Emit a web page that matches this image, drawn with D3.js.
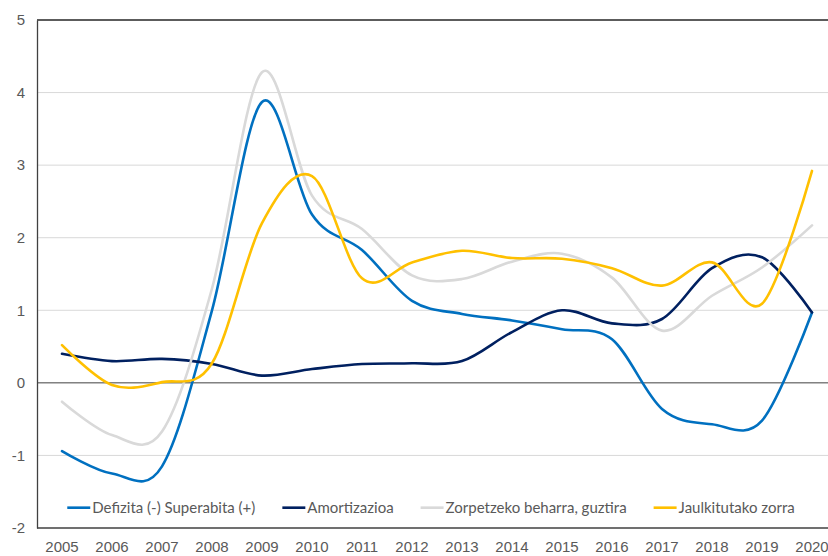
<!DOCTYPE html>
<html>
<head>
<meta charset="utf-8">
<script src="https://cdn.jsdelivr.net/npm/d3@7"></script>
<style>
  html, body { margin: 0; padding: 0; background: #fff; }
  svg { display: block; font-family: Lato, "Open Sans", sans-serif; }
</style>
</head>
<body>
<svg id="chart" width="828" height="556"></svg>
<script>
// Years on the horizontal axis
const years = ["2005","2006","2007","2008","2009","2010","2011","2012","2013","2014","2015","2016","2017","2018","2019","2020"];

// Series values (%)
const defizita     = [-0.94, -1.25, -1.15, 1.00, 3.87, 2.32, 1.83, 1.13, 0.95, 0.86, 0.74, 0.60, -0.36, -0.57, -0.52, 0.97];
const amortizazioa = [0.40, 0.30, 0.33, 0.26, 0.10, 0.19, 0.26, 0.27, 0.30, 0.70, 1.00, 0.82, 0.88, 1.58, 1.73, 0.97];
const zorpetzeko   = [-0.26, -0.72, -0.67, 1.30, 4.28, 2.58, 2.12, 1.48, 1.43, 1.67, 1.78, 1.45, 0.72, 1.20, 1.59, 2.17];
const jaulkitutako = [0.52, -0.03, 0.01, 0.27, 2.20, 2.85, 1.44, 1.66, 1.82, 1.72, 1.71, 1.58, 1.34, 1.66, 1.09, 2.92];

const seriesNames  = ["Defizita (-) Superabita (+)", "Amortizazioa", "Zorpetzeko beharra, guztira", "Jaulkitutako zorra"];
const seriesColors = ["#0070C0", "#002060", "#D9D9D9", "#FFC000"];
const yTicks = [-2, -1, 0, 1, 2, 3, 4, 5];

const series = [
  { name: seriesNames[0], color: seriesColors[0], values: defizita },
  { name: seriesNames[1], color: seriesColors[1], values: amortizazioa },
  { name: seriesNames[2], color: seriesColors[2], values: zorpetzeko },
  { name: seriesNames[3], color: seriesColors[3], values: jaulkitutako }
];

const svg = d3.select("#chart");
const margin = { top: 20, left: 37, bottom: 28 };
const plotRight = 837;           // plot area runs past the right edge of the page
const H = 556;

const x = d3.scaleBand().domain(years).range([margin.left, plotRight]).padding(0);
const y = d3.scaleLinear().domain([-2, 5]).range([H - margin.bottom, margin.top]);
const cx = d => x(d) + x.bandwidth() / 2;

// Horizontal gridlines
svg.append("g")
  .selectAll("line")
  .data(yTicks.filter(t => t !== 0 && t !== -2 && t !== 5))
  .join("line")
  .attr("x1", margin.left).attr("x2", plotRight)
  .attr("y1", d => y(d)).attr("y2", d => y(d))
  .attr("stroke", "#D9D9D9").attr("stroke-width", 1);

// Top frame line, zero line and bottom line
svg.append("line")
  .attr("x1", margin.left).attr("x2", plotRight)
  .attr("y1", y(5)).attr("y2", y(5))
  .attr("stroke", "#262626").attr("stroke-width", 1.3);
svg.append("line")
  .attr("x1", margin.left).attr("x2", plotRight)
  .attr("y1", y(0)).attr("y2", y(0))
  .attr("stroke", "#404040").attr("stroke-width", 1);
svg.append("line")
  .attr("x1", margin.left).attr("x2", plotRight)
  .attr("y1", y(-2)).attr("y2", y(-2))
  .attr("stroke", "#404040").attr("stroke-width", 1.3);

// Left axis
const yAxis = d3.axisLeft(y).tickValues(yTicks).tickSize(0).tickPadding(12).tickFormat(d3.format("d"));
const gy = svg.append("g").attr("transform", `translate(${margin.left},0)`).call(yAxis);
gy.select(".domain").attr("stroke", "#404040").attr("stroke-width", 1.3);
gy.selectAll("text").attr("fill", "#595959").attr("font-size", 15).text(d => d < 0 ? "-" + Math.abs(d) : d);

// Bottom axis labels
const xAxis = d3.axisBottom(x).tickSize(0).tickPadding(13);
const gx = svg.append("g").attr("transform", `translate(0,${y(-2)})`).call(xAxis);
gx.select(".domain").remove();
gx.selectAll("text").attr("fill", "#595959").attr("font-size", 15);

// Smoothed lines
const line = d3.line()
  .x((d, i) => cx(years[i]))
  .y(d => y(d))
  .curve(d3.curveCatmullRom.alpha(0));

svg.append("g")
  .selectAll("path")
  .data(series)
  .join("path")
  .attr("d", s => line(s.values))
  .attr("fill", "none")
  .attr("stroke", s => s.color)
  .attr("stroke-width", 2.6)
  .attr("stroke-linejoin", "round")
  .attr("stroke-linecap", "round");

// Legend
const legend = svg.append("g").attr("transform", `translate(0,${y(-1.72)})`);
const items = legend.selectAll("g").data(series).join("g");
items.append("line")
  .attr("x1", 0).attr("x2", 23).attr("y1", 0).attr("y2", 0)
  .attr("stroke", s => s.color).attr("stroke-width", 2.6);
items.append("text")
  .attr("x", 25).attr("dy", "0.35em")
  .attr("fill", "#595959").attr("font-size", 15)
  .text(s => s.name);
const widths = [];
items.each(function () {
  widths.push(25 + this.querySelector("text").getComputedTextLength());
});
const gap = 27;
const total = d3.sum(widths) + gap * (widths.length - 1);
let offset = 431 - total / 2;
items.attr("transform", (d, i) => {
  const t = `translate(${offset},0)`;
  offset += widths[i] + gap;
  return t;
});
</script>
</body>
</html>
